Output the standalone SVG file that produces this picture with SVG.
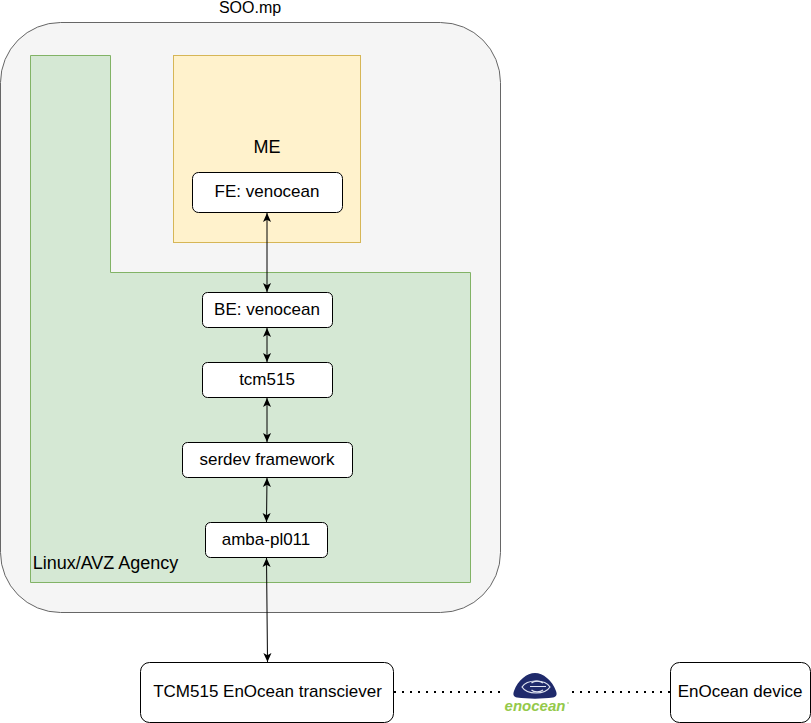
<svg xmlns="http://www.w3.org/2000/svg" width="811" height="723" viewBox="0 0 811 723">
<defs>
<marker id="a" viewBox="0 0 10 10" refX="10" refY="5" markerWidth="9" markerHeight="9" markerUnits="userSpaceOnUse" orient="auto-start-reverse"><path d="M0 0.500 L10 5 L0 9.500 L2.500 5 Z" fill="#000"/></marker>
</defs>
<style>
text{font-family:"Liberation Sans",Arial,sans-serif;fill:#000;font-size:17px;text-anchor:middle}
.b{fill:#fff;stroke:#000;stroke-width:1}
.c{fill:none;stroke:#000;stroke-width:1;marker-start:url(#a);marker-end:url(#a)}
.d{fill:none;stroke:#000;stroke-width:2;stroke-dasharray:2 6}
</style>
<rect width="811" height="723" fill="#fff"/>
<g id="soo"><rect x="0.500" y="22.500" width="500" height="590" rx="60" fill="#f5f5f5" stroke="#666"/><text x="250" y="13" style="font-size:16px">SOO.mp</text></g>
<g id="agency"><path d="M30.500 55.500H110.500V272.500H470.500V582.500H30.500Z" fill="#d5e8d4" stroke="#82b366"/><text x="105.500" y="569" style="font-size:18px">Linux/AVZ Agency</text></g>
<g id="me"><rect x="173.500" y="55.500" width="187" height="187" fill="#fff2cc" stroke="#d6b656"/><text x="267" y="153" style="font-size:18px">ME</text></g>
<g id="fe"><rect class="b" x="192.500" y="172.500" width="150" height="40" rx="6"/><text x="267" y="197">FE: venocean</text></g>
<g id="be"><rect class="b" x="202.500" y="292.500" width="130" height="35" rx="5"/><text x="267" y="315">BE: venocean</text></g>
<g id="tcm515"><rect class="b" x="202.500" y="362.500" width="130" height="35" rx="5"/><text x="267" y="385">tcm515</text></g>
<g id="serdev"><rect class="b" x="182.500" y="442.500" width="170" height="35" rx="5"/><text x="267" y="465">serdev framework</text></g>
<g id="amba"><rect class="b" x="205.500" y="522.500" width="122" height="35" rx="5"/><text x="266" y="545">amba-pl011</text></g>
<g id="transceiver"><rect class="b" x="140.500" y="662.500" width="253" height="60" rx="9"/><text x="267.500" y="697">TCM515 EnOcean transciever</text></g>
<g id="device"><rect class="b" x="670.500" y="662.500" width="140" height="60" rx="9"/><text x="740" y="697">EnOcean device</text></g>
<g id="logo">
<path d="M514 691C518 680 527 673 535 673C543 673 552 680 556 691C557.500 695 556 697 553 697.500C542 699 528 699 517 697.500C514 697 512.500 695 514 691Z" fill="#1f2a6b"/>
<path d="M522 687C527 679 545 679 550 687C545 695 527 695 522 687Z" fill="none" stroke="#dfe3f0" stroke-width="1.200"/>
<path d="M530 686.500H546M531.500 683C534 680.500 540 680.500 543 683M531.500 690C534 692.500 540 692.500 543 690" fill="none" stroke="#dfe3f0" stroke-width="1.200"/>
<text x="535" y="710.500" style="font-size:15px;font-weight:bold;font-style:italic;fill:#94c94a">enocean</text>
<circle cx="568" cy="703" r="1" fill="#c3e09e"/>
</g>
<g id="connectors">
<path class="c" d="M267 213V292"/>
<path class="c" d="M267 328V362"/>
<path class="c" d="M267 398V442"/>
<path class="c" d="M267 478L266.500 522"/>
<path class="c" d="M266.500 558L267.500 662"/>
<path class="d" d="M394 692H500"/>
<path class="d" d="M572 692H670"/>
</g>
</svg>
